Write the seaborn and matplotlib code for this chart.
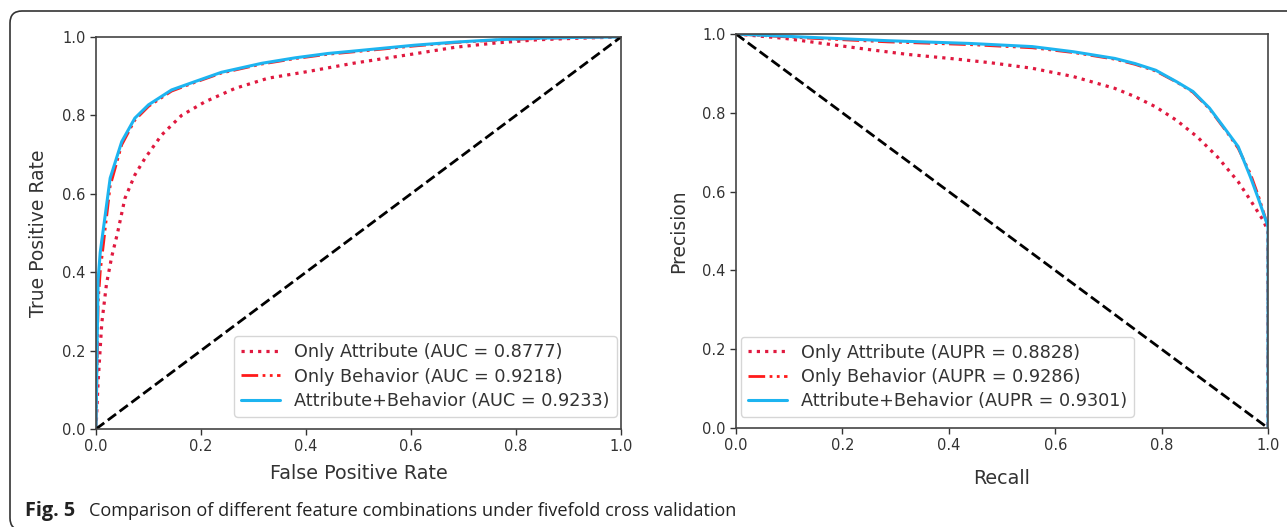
import numpy as np
import pandas as pd
import matplotlib
matplotlib.use("Agg")
import matplotlib.pyplot as plt
import seaborn as sns
from matplotlib.patches import FancyBboxPatch

# ROC curves
fpr_attr = [0, 0.004, 0.011, 0.02, 0.03, 0.041, 0.055, 0.074, 0.093, 0.125, 0.163, 0.208,
            0.265, 0.328, 0.404, 0.49, 0.606, 0.685, 0.763, 0.842, 0.92, 1.0]
tpr_attr = [0, 0.12, 0.27, 0.37, 0.44, 0.50, 0.588, 0.648, 0.69, 0.75, 0.80, 0.835,
            0.869, 0.895, 0.912, 0.933, 0.957, 0.974, 0.985, 0.993, 0.997, 1.0]

fpr_comb = [0, 0.002, 0.004, 0.008, 0.014, 0.027, 0.049, 0.074, 0.10, 0.144, 0.188,
            0.239, 0.316, 0.38, 0.442, 0.49, 0.606, 0.685, 0.763, 0.84, 0.92, 1.0]
tpr_beh = [0, 0.15, 0.32, 0.40, 0.47, 0.62, 0.725, 0.788, 0.823, 0.862, 0.884,
           0.908, 0.931, 0.945, 0.956, 0.962, 0.977, 0.986, 0.992, 0.996, 0.999, 1.0]
tpr_comb = [0, 0.2, 0.38, 0.45, 0.51, 0.64, 0.733, 0.793, 0.827, 0.865, 0.886,
            0.91, 0.933, 0.947, 0.958, 0.964, 0.979, 0.987, 0.993, 0.997, 0.999, 1.0]

# PR curves
rec_attr = [0, 0.091, 0.169, 0.247, 0.324, 0.402, 0.479, 0.557, 0.634, 0.712, 0.75,
            0.789, 0.828, 0.867, 0.905, 0.944, 0.967, 0.991, 1.0, 1.0]
prec_attr = [1.0, 0.989, 0.975, 0.961, 0.948, 0.938, 0.927, 0.913, 0.892, 0.862, 0.841,
             0.815, 0.781, 0.739, 0.688, 0.625, 0.578, 0.527, 0.50, 0.0]

rec_comb = [0, 0.13, 0.285, 0.44, 0.557, 0.634, 0.712, 0.75, 0.789, 0.828, 0.859,
            0.89, 0.921, 0.944, 0.967, 0.983, 0.998, 1.0, 1.0]
prec_beh = [1.0, 0.99, 0.98, 0.973, 0.965, 0.953, 0.936, 0.923, 0.906, 0.878, 0.852,
            0.81, 0.754, 0.71, 0.645, 0.585, 0.52, 0.51, 0.0]
prec_comb = [1.0, 0.992, 0.983, 0.976, 0.968, 0.955, 0.938, 0.925, 0.908, 0.879, 0.854,
             0.812, 0.756, 0.714, 0.637, 0.578, 0.519, 0.51, 0.0]

auc_labels = ["Only Attribute (AUC = 0.8777)", "Only Behavior (AUC = 0.9218)",
              "Attribute+Behavior (AUC = 0.9233)"]
aupr_labels = ["Only Attribute (AUPR = 0.8828)", "Only Behavior (AUPR = 0.9286)",
               "Attribute+Behavior (AUPR = 0.9301)"]
ticks = [0.0, 0.2, 0.4, 0.6, 0.8, 1.0]
chance_roc = [0.0, 1.0]
chance_pr = [1.0, 0.0]

sns.set_style("ticks")
plt.rcParams['font.family'] = ['DejaVu Sans']
plt.rcParams['text.color'] = '#333333'
plt.rcParams['axes.labelcolor'] = '#333333'
plt.rcParams['xtick.color'] = '#333333'
plt.rcParams['ytick.color'] = '#333333'

fig = plt.figure(figsize=(12.87, 5.27), dpi=100)
W, H = 1287, 527
ax1 = fig.add_axes([96 / W, (H - 429) / H, (621 - 96) / W, (429 - 37) / H])
ax2 = fig.add_axes([736 / W, (H - 428) / H, (1268 - 736) / W, (428 - 34) / H])

c_attr = '#e0193f'
c_beh = '#ff1a1a'
c_comb = '#1db4f0'
dotted = (0, (1, 1.6))
dashdotdot = (0, (6, 1.6, 1, 1.6, 1, 1.6))

def draw(ax, xs, ys, labels):
    sns.lineplot(x=xs[0], y=ys[0], ax=ax, sort=False, estimator=None, color=c_attr,
                 linestyle=dotted, linewidth=2.3, label=labels[0])
    sns.lineplot(x=xs[1], y=ys[1], ax=ax, sort=False, estimator=None, color=c_beh,
                 linestyle=dashdotdot, linewidth=2.0, label=labels[1])
    sns.lineplot(x=xs[2], y=ys[2], ax=ax, sort=False, estimator=None, color=c_comb,
                 linewidth=2.2, label=labels[2])

draw(ax1, [fpr_attr, fpr_comb, fpr_comb], [tpr_attr, tpr_beh, tpr_comb], auc_labels)
ax1.plot(chance_roc, chance_roc, color='black', linestyle='--', linewidth=2)
draw(ax2, [rec_attr, rec_comb, rec_comb], [prec_attr, prec_beh, prec_comb], aupr_labels)
ax2.plot(chance_roc, chance_pr, color='black', linestyle='--', linewidth=2)

for ax in (ax1, ax2):
    ax.set_xlim(0, 1)
    ax.set_ylim(0, 1)
    ax.set_xticks(ticks)
    ax.set_yticks(ticks)
    ax.tick_params(labelsize=10.5, length=4, width=1)
    for s in ax.spines.values():
        s.set_color('#444444')
        s.set_linewidth(1.2)

ax1.set_xlabel('False Positive Rate', fontsize=13.8, labelpad=7)
ax1.set_ylabel('True Positive Rate', fontsize=13.5, labelpad=10)
ax2.set_xlabel('Recall', fontsize=13.8, labelpad=11)
ax2.set_ylabel('Precision', fontsize=13.5, labelpad=10)

leg_kw = dict(fontsize=12.7, handlelength=2.2, labelspacing=0.35, borderaxespad=0)
ax1.legend(loc='lower right', bbox_to_anchor=(0.992, 0.031), **leg_kw)
ax2.legend(loc='lower left', bbox_to_anchor=(0.009, 0.028), **leg_kw)

# figure frame with rounded corner, as in the journal layout
frame = FancyBboxPatch((0.10, -0.03), 14, 5.16 + 0.03,
                       boxstyle="round,pad=0,rounding_size=0.12",
                       transform=fig.dpi_scale_trans, fill=False,
                       edgecolor='#333333', linewidth=1.2, clip_on=False)
fig.patches.append(frame)

fig.text(25 / W, 1 - 511 / H, 'Fig. 5', fontsize=14.3, fontweight='bold',
         family=['Open Sans'], va='center', ha='left', color='#222222')
fig.text(89 / W, 1 - 511 / H,
         'Comparison of different feature combinations under fivefold cross validation',
         fontsize=13.1, family=['Open Sans'], va='center', ha='left', color='#222222')

fig.savefig('out.png', dpi=100)
